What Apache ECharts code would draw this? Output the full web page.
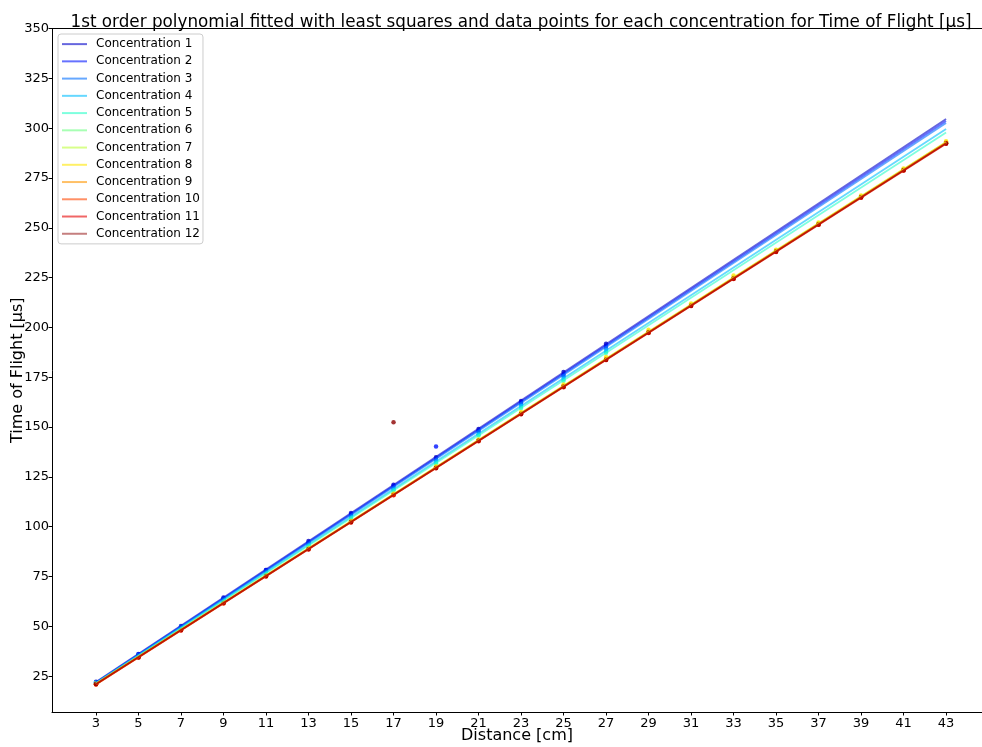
<!DOCTYPE html>
<html>
<head>
  <meta charset="utf-8">
  <title>Time of Flight fit</title>
  <script src="https://cdn.jsdelivr.net/npm/echarts@6/dist/echarts.min.js"></script>
</head>
<body style="margin:0">
  <div id="main" style="width:982px;height:747px"></div>
  <script type="text/javascript">
    // distances [cm] and tick labels
    var distances = [3, 5, 7, 9, 11, 13, 15, 17, 19, 21, 23, 25, 27, 29, 31, 33, 35, 37, 39, 41, 43];
    var xTicks = [3, 5, 7, 9, 11, 13, 15, 17, 19, 21, 23, 25, 27, 29, 31, 33, 35, 37, 39, 41, 43];
    var yTicks = [25, 50, 75, 100, 125, 150, 175, 200, 225, 250, 275, 300, 325, 350];

    var names = ['Concentration 1', 'Concentration 2', 'Concentration 3', 'Concentration 4',
      'Concentration 5', 'Concentration 6', 'Concentration 7', 'Concentration 8',
      'Concentration 9', 'Concentration 10', 'Concentration 11', 'Concentration 12'];

    var tof1 = [22.2, 36.0, 50.1, 64.5, 78.3, 92.8, 106.9, 121.0, 134.8, 149.0, 163.1, 177.6, 191.8];
    var tof2 = [21.6, 36.1, 49.7, 63.9, 78.2, 91.9, 106.3, 120.6, 140.2, 148.0, 162.3, 176.3, 190.7];
    var tof3 = [21.9, 35.6, 49.8, 63.7, 77.6, 91.8, 105.4, 119.4, 133.5, 147.6, 161.5, 175.5, 189.6];
    var tof4 = [21.3, 35.5, 49.4, 63.2, 77.3, 90.9, 104.9, 118.8, 132.6, 146.4, 160.5, 174.2, 188.1];
    var tof5 = [21.5, 35.1, 49.0, 62.9, 76.6, 90.6, 104.3, 118.1, 131.8, 145.8, 159.5, 173.2, 187.3];
    var tof6 = [21.2, 34.8, 48.3, 61.9, 75.6, 89.0, 102.7, 116.4, 129.8, 143.5, 157.0, 170.7, 184.2, 197.9, 211.4, 225.0, 238.6, 252.3, 265.8, 279.4, 292.8];
    var tof7 = [21.0, 34.5, 48.4, 61.8, 75.2, 89.1, 102.4, 116.2, 129.7, 143.1, 156.9, 170.3, 184.1, 197.5, 211.3, 224.8, 238.2, 252.0, 265.4, 279.1, 292.5];
    var tof8 = [21.3, 34.9, 48.6, 62.2, 75.7, 89.4, 103.0, 116.7, 130.3, 143.8, 157.6, 171.3, 185.2, 198.8, 212.0, 226.1, 239.0, 252.6, 266.2, 279.8, 293.4];
    var tof9 = [20.9, 34.6, 48.1, 61.7, 75.4, 88.8, 102.6, 116.0, 129.6, 143.3, 156.7, 170.5, 183.9, 197.7, 211.0, 224.6, 238.4, 251.8, 265.5, 279.0, 292.7];
    var tof10 = [20.8, 34.4, 48.0, 61.5, 75.1, 88.7, 102.2, 115.9, 129.4, 143.0, 156.5, 170.1, 183.7, 197.3, 210.8, 224.4, 238.0, 251.6, 265.2, 278.8, 292.4];
    var tof11 = [20.9, 34.3, 47.9, 61.6, 75.0, 88.6, 102.1, 115.8, 129.3, 142.9, 156.4, 170.0, 183.6, 197.2, 210.7, 224.3, 237.9, 251.5, 265.1, 278.7, 292.2];
    var tof12 = [21.1, 34.5, 48.1, 61.8, 75.2, 88.8, 102.3, 152.4, 129.5, 143.1, 156.6, 170.2, 183.8, 197.4, 210.9, 224.5, 238.1, 251.7, 265.3, 278.9, 292.3];
    var measured = [tof1, tof2, tof3, tof4, tof5, tof6, tof7, tof8, tof9, tof10, tof11, tof12];

    // fitted line values at 3 cm and 43 cm
    var fitStart = [22.0, 21.8, 21.7, 21.5, 21.4, 21.1, 21.0, 21.3, 20.9, 20.8, 20.9, 21.0];
    var fitEnd = [304.6, 303.6, 302.6, 299.6, 297.8, 292.9, 292.6, 293.1, 292.7, 292.4, 292.2, 292.4];

    // jet-like colours
    var colors = [[0, 0, 200], [0, 20, 255], [0, 110, 255], [0, 190, 255], [40, 255, 200], [110, 255, 130],
      [190, 255, 60], [255, 230, 0], [255, 150, 0], [255, 70, 0], [230, 0, 0], [140, 0, 0]];

    function rgba(c, a) {
      return 'rgba(' + c[0] + ',' + c[1] + ',' + c[2] + ',' + a + ')';
    }

    var series = [];
    for (var i = 0; i < names.length; i++) {
      series.push({
        name: names[i],
        type: 'line',
        symbol: 'none',
        color: rgba(colors[i], i === 11 ? 0.5 : 0.6),
        lineStyle: { width: 1.8 },
        data: [[distances[0], fitStart[i]], [distances[distances.length - 1], fitEnd[i]]]
      });
      var pts = [];
      for (var j = 0; j < measured[i].length; j++) {
        pts.push([distances[j], measured[i][j]]);
      }
      series.push({
        name: names[i],
        type: 'scatter',
        symbolSize: 4.5,
        color: rgba(colors[i], 1),
        data: pts
      });
    }

    var myChart = echarts.init(document.getElementById('main'));
    var option = {
      animation: false,
      textStyle: { fontFamily: 'DejaVu Sans' },
      title: {
        text: '1st order polynomial fitted with least squares and data points for each concentration for Time of Flight [µs]',
        left: 516,
        top: 9,
        textAlign: 'center',
        textStyle: { fontSize: 16.8, fontWeight: 'normal', color: '#000' }
      },
      legend: {
        orient: 'vertical',
        left: 58,
        top: 34,
        padding: [1.5, 3, 1.5, 4],
        itemGap: 0,
        itemWidth: 25,
        itemHeight: 2,
        icon: 'rect',
        borderColor: '#cccccc',
        borderWidth: 1,
        borderRadius: 3,
        backgroundColor: 'rgba(255,255,255,0.8)',
        textStyle: { fontSize: 12, color: '#000', lineHeight: 17.24, padding: [0, 0, 0, 4] },
        data: names
      },
      grid: { left: 52, right: 0, top: 28.5, bottom: 35, outerBoundsMode: 'none' },
      xAxis: [{
        type: 'value',
        min: 0.93,
        max: 44.69,
        name: 'Distance [cm]',
        nameLocation: 'middle',
        nameGap: 16,
        nameMoveOverlap: false,
        nameTextStyle: { fontSize: 16, color: '#000' },
        axisLine: { lineStyle: { color: '#000', width: 1 } },
        axisTick: { show: true, length: 3.5, customValues: xTicks, lineStyle: { color: '#000' } },
        axisLabel: { customValues: xTicks, fontSize: 13, color: '#000', margin: 5 },
        splitLine: { show: false }
      }, {
        type: 'value',
        position: 'top',
        min: 0.93,
        max: 44.69,
        axisLine: { show: true, lineStyle: { color: '#000', width: 1 } },
        axisTick: { show: false },
        axisLabel: { show: false },
        splitLine: { show: false }
      }],
      yAxis: {
        type: 'value',
        min: 7,
        max: 350,
        name: 'Time of Flight [µs]',
        nameLocation: 'middle',
        nameGap: 26,
        nameMoveOverlap: false,
        nameTextStyle: { fontSize: 16, color: '#000' },
        axisLine: { show: true, lineStyle: { color: '#000', width: 1 } },
        axisTick: { show: true, length: 3.5, customValues: yTicks, lineStyle: { color: '#000' } },
        axisLabel: { customValues: yTicks, fontSize: 13, color: '#000', margin: 3 },
        splitLine: { show: false }
      },
      series: series
    };
    myChart.setOption(option);
  </script>
</body>
</html>
